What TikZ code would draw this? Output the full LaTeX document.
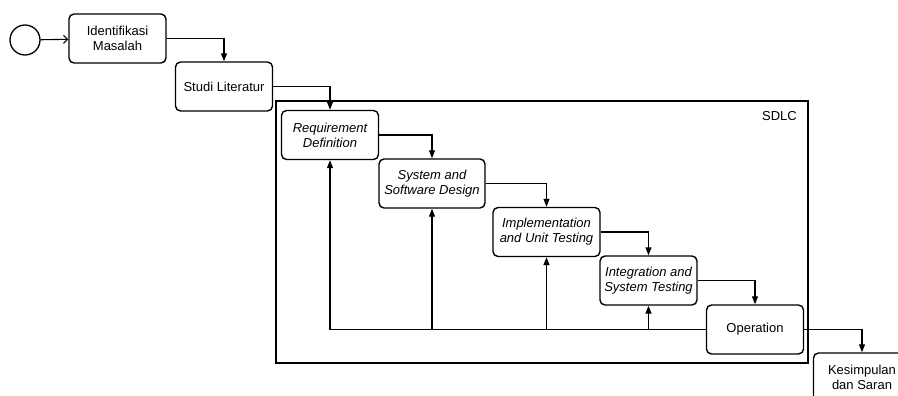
\documentclass[tikz,border=0pt]{standalone}
\usepackage{fontspec}
\setmainfont{Liberation Sans}
\usetikzlibrary{arrows.meta}

\newcommand{\boxfont}{\fontsize{13}{15}\selectfont}

\tikzset{
    stepbox/.style={draw, line width=1.4pt, rounded corners=5pt, align=center,
        inner xsep=3pt, minimum width=97pt, minimum height=49pt, font=\boxfont},
    phase/.style={stepbox, font=\boxfont\itshape},
    flow/.style={-{Triangle[length=8pt,width=6pt]}, line width=1.1pt},
    heavyflow/.style={flow, line width=1.7pt},
}

\begin{document}
\begin{tikzpicture}[x=1pt, y=-1pt]
    \useasboundingbox (0,0) rectangle (898,396);

    % frame round the waterfall phases
    \draw[line width=1.8pt] (276,101) rectangle (808,363);
    \node[anchor=north east, inner sep=0pt, font=\boxfont] (sdlc) at (797,111) {SDLC};

    \node[draw, circle, minimum size=30pt, line width=1.3pt] (start) at (25,40) {};
    \node[stepbox] (idm) at (117.5,38.5) {Identifikasi\\Masalah};
    \node[stepbox] (studi) at (224,86.5) {Studi Literatur};

    \node[phase] (req) at (330,135) {Requirement\\Definition};
    \node[phase, minimum width=106pt] (sys) at (432,183.5) {System and\\Software Design};
    \node[phase, minimum width=107pt] (impl) at (546.5,232) {Implementation\\and Unit Testing};
    \node[phase] (integ) at (648.5,280.5) {Integration and\\System Testing};
    \node[stepbox] (op) at (755,329.5) {Operation};

    \node[stepbox] (kes) at (862,377.5) {Kesimpulan\\dan Saran};

    % forward flow
    \draw[-{Straight Barb[length=4pt,width=8pt]}, line width=1.1pt] (start) -- (idm);
    \draw[flow] (idm) -| (studi);
    \draw[flow] (studi) -| (req);
    \draw[flow] (req) -| (sys);
    \draw[flow] (sys) -| (impl);
    \draw[flow] (impl) -| (integ);
    \draw[flow] (integ) -| (op);
    \draw[flow] (op) -| (kes);

    % feedback from operation to the earlier phases
    \draw[flow] (op) -| (req);
    \draw[flow] (sys.south |- op.west) -- (sys);
    \draw[heavyflow] (impl.south |- op.west) -- (impl);
    \draw[heavyflow] (integ.south |- op.west) -- (integ);
\end{tikzpicture}
\end{document}
